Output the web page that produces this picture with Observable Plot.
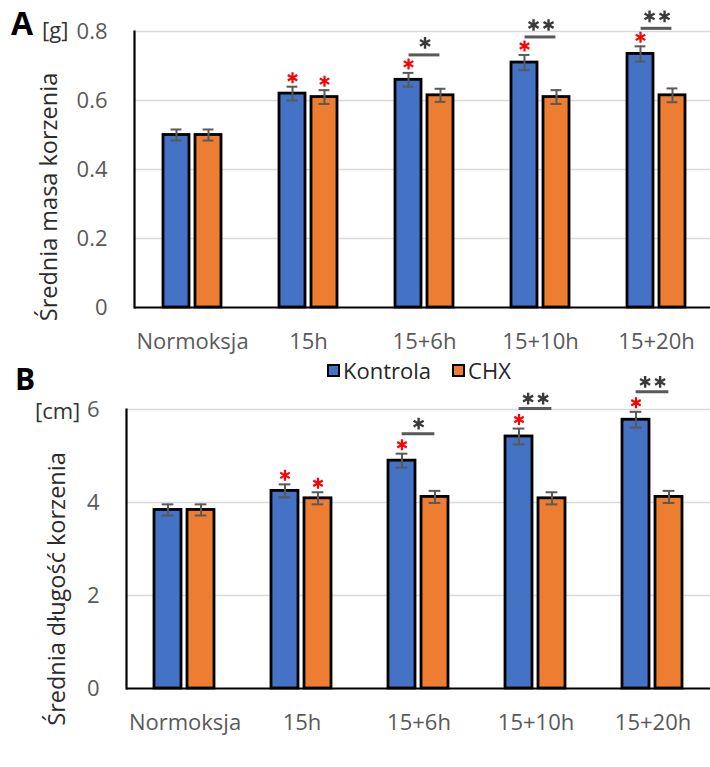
<!DOCTYPE html>
<html>
<head>
<meta charset="utf-8">
<script src="https://cdn.jsdelivr.net/npm/d3@7"></script>
<script src="https://cdn.jsdelivr.net/npm/@observablehq/plot@0.6"></script>
<style>
  html, body { margin: 0; padding: 0; background: white; overflow: hidden; }
  #wrap { position: relative; width: 710px; height: 767px; font-family: "Open Sans", sans-serif; }
  .ov { position: absolute; line-height: 1; white-space: nowrap; }
  .panel-letter { font-weight: 700; color: #000; }
  .unit { font-size: 22px; color: #333; }
  .ytitle { font-size: 23.5px; color: #2b2b2b; transform: translate(-50%, -50%) rotate(-90deg); }
  .legend { position: absolute; display: flex; align-items: center; font-size: 22px; color: #262626; line-height: 1; }
  .sw { width: 13px; height: 13px; box-sizing: border-box; border: 2px solid #000; display: inline-block; }
  svg g[aria-label="y-axis tick label"], svg g[aria-label="fx-axis tick label"] { fill: #595959; }
</style>
</head>
<body>
<div id="wrap">
  <div id="panelA"></div>
  <div id="legendA" style="height:20px"></div>
  <div id="panelB"></div>
</div>
<script>
// ---------- data ----------
const categories = ["Normoksja", "15h", "15+6h", "15+10h", "15+20h"];
const series = ["Kontrola", "CHX"];
const seriesColors = ["#4472C4", "#ED7D31"];

// Panel A: mean root mass [g]
const massKontrola    = [0.50, 0.62, 0.66, 0.71, 0.735];
const massKontrolaErr = [0.016, 0.02, 0.02, 0.022, 0.022];
const massCHX         = [0.50, 0.61, 0.615, 0.61, 0.615];
const massCHXErr      = [0.016, 0.02, 0.019, 0.02, 0.02];
const massTicks       = [0, 0.2, 0.4, 0.6, 0.8];

// Panel B: mean root length [cm]
const lengthKontrola    = [3.84, 4.25, 4.90, 5.42, 5.78];
const lengthKontrolaErr = [0.12, 0.14, 0.15, 0.17, 0.17];
const lengthCHX         = [3.84, 4.09, 4.12, 4.09, 4.12];
const lengthCHXErr      = [0.12, 0.13, 0.13, 0.13, 0.13];
const lengthTicks       = [0, 2, 4, 6];

// significance vs Normoksja (red asterisk) and Kontrola vs CHX (number of black asterisks)
const redKontrola = [false, true, true, true, true];
const redCHX      = [false, true, false, false, false];
const sigStars    = [0, 0, 1, 2, 2];

// ---------- panel builder ----------
function panel({mL, mR, mT, mB, H, ticks, k, ke, c, ce, lineDy, starDy, fmt}) {
  const W = 710;
  const rows = [];
  categories.forEach((cat, i) => {
    rows.push({cat, series: series[0], value: k[i], err: ke[i], red: redKontrola[i]});
    rows.push({cat, series: series[1], value: c[i], err: ce[i], red: redCHX[i]});
  });
  const sig = categories.map((cat, i) => ({cat, series: series[0], hi: k[i] + ke[i], n: sigStars[i]}))
                        .filter(d => d.n > 0);
  const pIn = 0.18, pOut = 0.85;
  const fw = (W - mL - mR) / categories.length;
  const step = fw / (2 - pIn + 2 * pOut);
  const half = step * (1 - pIn) / 2;
  const errCol = "#595959";

  return Plot.plot({
    width: W, height: H,
    marginLeft: mL, marginRight: mR, marginTop: mT, marginBottom: mB,
    style: {fontFamily: "'Open Sans'", fontSize: "22px", color: "black", background: "white", overflow: "visible"},
    fx: {domain: categories, padding: 0, label: null, tickSize: 0, tickPadding: 26},
    x: {domain: series, paddingInner: pIn, paddingOuter: pOut, axis: null},
    y: {domain: [0, ticks[ticks.length - 1]], ticks, tickFormat: fmt, tickSize: 0, tickPadding: 27, label: null},
    color: {domain: series, range: seriesColors},
    marks: [
      Plot.gridY(ticks.slice(1), {stroke: "#d9d9d9", strokeOpacity: 1, strokeWidth: 1.3}),
      Plot.barY(rows, {fx: "cat", x: "series", y: "value", fill: "series", stroke: "black", strokeWidth: 2.8}),
      Plot.ruleX(rows, {fx: "cat", x: "series", y1: d => d.value - d.err, y2: d => d.value + d.err, stroke: errCol, strokeWidth: 2}),
      Plot.tickY(rows, {fx: "cat", x: "series", y: d => d.value - d.err, insetLeft: half - 6, insetRight: half - 6, stroke: errCol, strokeWidth: 2}),
      Plot.tickY(rows, {fx: "cat", x: "series", y: d => d.value + d.err, insetLeft: half - 6, insetRight: half - 6, stroke: errCol, strokeWidth: 2}),
      Plot.ruleY([0], {stroke: "black", strokeWidth: 2.2}),
      Plot.frame({anchor: "left", facetAnchor: "left", stroke: "black", strokeWidth: 2.2}),
      Plot.dot(rows.filter(d => d.red), {fx: "cat", x: "series", y: d => d.value + d.err, symbol: "asterisk", r: 5.2, stroke: "#ff0000", strokeWidth: 2.2, dy: -9}),
      Plot.ruleY(sig, {fx: "cat", x1: () => series[0], x2: () => series[1], y: "hi", insetLeft: half, insetRight: half, stroke: "#595959", strokeWidth: 3, dy: lineDy}),
      Plot.dot(sig.filter(d => d.n === 1), {fx: "cat", x: "series", y: "hi", symbol: "asterisk", r: 5.5, stroke: "#3a3a3a", strokeWidth: 2.4, dx: step / 2, dy: starDy}),
      Plot.dot(sig.filter(d => d.n === 2), {fx: "cat", x: "series", y: "hi", symbol: "asterisk", r: 5.5, stroke: "#3a3a3a", strokeWidth: 2.4, dx: step / 2 - 7.5, dy: starDy}),
      Plot.dot(sig.filter(d => d.n === 2), {fx: "cat", x: "series", y: "hi", symbol: "asterisk", r: 5.5, stroke: "#3a3a3a", strokeWidth: 2.4, dx: step / 2 + 7.5, dy: starDy})
    ]
  });
}

document.getElementById("panelA").append(panel({
  mL: 133, mR: -5.5, mT: 31, mB: 53, H: 360, ticks: massTicks,
  k: massKontrola, ke: massKontrolaErr, c: massCHX, ce: massCHXErr,
  lineDy: -18, starDy: -30, fmt: d => String(+d.toFixed(1))
}));
document.getElementById("panelB").append(panel({
  mL: 126, mR: -1, mT: 29, mB: 79, H: 387, ticks: lengthTicks,
  k: lengthKontrola, ke: lengthKontrolaErr, c: lengthCHX, ce: lengthCHXErr,
  lineDy: -20, starDy: -30, fmt: d => String(d)
}));

// ---------- legend (between panels) ----------
const leg = document.createElement("div");
leg.className = "legend";
leg.style.left = "327px";
leg.style.top = "359px";
series.forEach((s, i) => {
  const sw = document.createElement("span");
  sw.className = "sw";
  sw.style.background = seriesColors[i];
  sw.style.marginRight = "3px";
  if (i > 0) sw.style.marginLeft = "21px";
  const t = document.createElement("span");
  t.textContent = s;
  leg.append(sw, t);
});
document.getElementById("wrap").append(leg);

// ---------- text overlays ----------
const overlays = [
  {text: "A", cls: "panel-letter", size: 32, left: 11, top: 6.5},
  {text: "[g]", cls: "unit", left: 42, top: 17.5},
  {text: "B", cls: "panel-letter", size: 30, left: 15, top: 363.5},
  {text: "[cm]", cls: "unit", left: 35, top: 398.5},
  {text: "Średnia masa korzenia", cls: "ytitle", left: 49, top: 197},
  {text: "Średnia długość korzenia", cls: "ytitle", left: 57, top: 589}
];
for (const o of overlays) {
  const el = document.createElement("div");
  el.className = "ov " + o.cls;
  el.textContent = o.text;
  el.style.left = o.left + "px";
  el.style.top = o.top + "px";
  if (o.size) el.style.fontSize = o.size + "px";
  document.getElementById("wrap").append(el);
}
</script>
</body>
</html>
